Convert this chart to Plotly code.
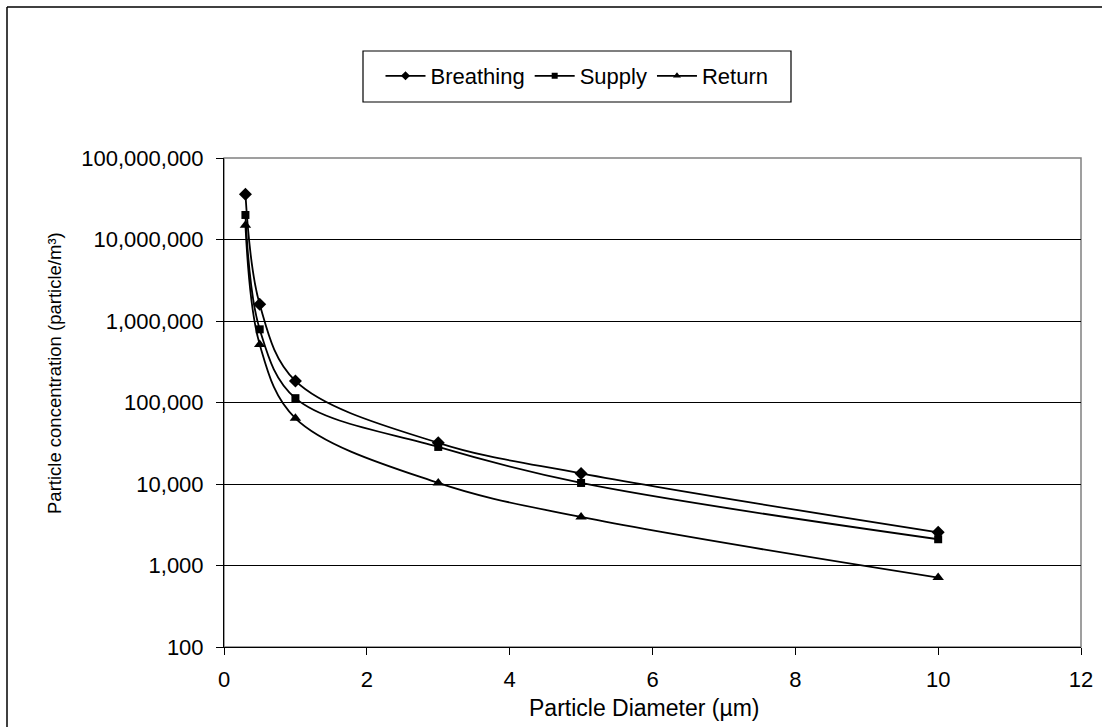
import plotly.graph_objects as go

diameters = [0.3, 0.5, 1, 3, 5, 10]
breathing = [3.6e7, 1.6e6, 1.84e5, 3.2e4, 1.35e4, 2.55e3]
supply = [2.0e7, 7.9e5, 1.13e5, 2.85e4, 1.03e4, 2.1e3]
returns = [1.5e7, 5.15e5, 6.4e4, 1.03e4, 3.94e3, 7.1e2]

series_names = ["Breathing", "Supply", "Return"]
y_tickvals = [100, 1000, 10000, 100000, 1000000, 10000000, 100000000]
y_ticktext = ["100", "1,000", "10,000", "100,000", "1,000,000", "10,000,000", "100,000,000"]
x_tickvals = [0, 2, 4, 6, 8, 10, 12]

FONT = "Liberation Sans, Arial, sans-serif"
W, H = 1102, 727
L, R, T, B = 224, 1081, 158, 647

def px_x(p):
    return (p - L) / (R - L)

def px_y(p):
    return (B - p) / (B - T)

fig = go.Figure()
markers = [("diamond", 10, 7), ("square", 8, 6), ("triangle-up", 10, 7)]
for name, vals, (sym, size, lsize) in zip(series_names, [breathing, supply, returns], markers):
    fig.add_trace(go.Scatter(
        x=diameters, y=vals, name=name, mode="lines+markers", showlegend=False,
        line=dict(color="black", width=1.8, shape="spline", smoothing=1.0),
        marker=dict(symbol=sym, size=size, color="black"),
    ))
    # legend entry with smaller marker, as in the original
    fig.add_trace(go.Scatter(
        x=[None], y=[None], name=name, mode="lines+markers", showlegend=True,
        line=dict(color="black", width=1.8),
        marker=dict(symbol=sym, size=lsize, color="black"),
    ))

fig.update_layout(
    width=W, height=H,
    margin=dict(l=L, r=W - R, t=T, b=H - B, autoexpand=False),
    paper_bgcolor="white", plot_bgcolor="white",
    font=dict(family=FONT, size=22, color="black"),
    showlegend=True,
    legend=dict(
        orientation="h", x=px_x(577), y=px_y(76), xanchor="center", yanchor="middle",
        borderwidth=0, bgcolor="rgba(0,0,0,0)",
        font=dict(size=22), itemwidth=40, tracegroupgap=0,
    ),
    xaxis=dict(
        range=[0, 12], tickvals=x_tickvals, showgrid=False, zeroline=False,
        showline=True, linecolor="black", linewidth=1,
        ticks="outside", ticklen=7, tickcolor="black",
        tickfont=dict(size=22), ticklabelstandoff=6,
    ),
    yaxis=dict(
        type="log", range=[2, 8], tickvals=y_tickvals, ticktext=y_ticktext,
        showgrid=True, gridcolor="black", gridwidth=1, zeroline=False,
        showline=True, linecolor="black", linewidth=1,
        ticks="outside", ticklen=7, tickcolor="black",
        tickfont=dict(size=22), ticklabelstandoff=8,
    ),
    shapes=[
        dict(type="rect", xref="x domain", yref="y domain", x0=0, x1=1, y0=0, y1=1,
             line=dict(color="#808080", width=1.5), layer="below"),
        dict(type="rect", xref="paper", yref="paper", x0=px_x(363), x1=px_x(791),
             y0=px_y(102), y1=px_y(51), line=dict(color="black", width=1.2),
             fillcolor="white", layer="below"),
        dict(type="line", xref="paper", yref="paper", x0=px_x(7), x1=px_x(1110),
             y0=px_y(7), y1=px_y(7), line=dict(color="black", width=1.5)),
        dict(type="line", xref="paper", yref="paper", x0=px_x(7), x1=px_x(7),
             y0=px_y(7), y1=px_y(740), line=dict(color="black", width=1.5)),
    ],
    annotations=[
        dict(text="Particle concentration (particle/m³)", xref="paper", yref="paper",
             x=px_x(54), y=px_y(373), textangle=-90, showarrow=False,
             xanchor="center", yanchor="middle", font=dict(size=18.5)),
        dict(text="Particle Diameter (µm)", xref="paper", yref="paper",
             x=px_x(644), y=px_y(708), showarrow=False,
             xanchor="center", yanchor="middle", font=dict(size=23)),
    ],
)

fig.write_html("out.html")
